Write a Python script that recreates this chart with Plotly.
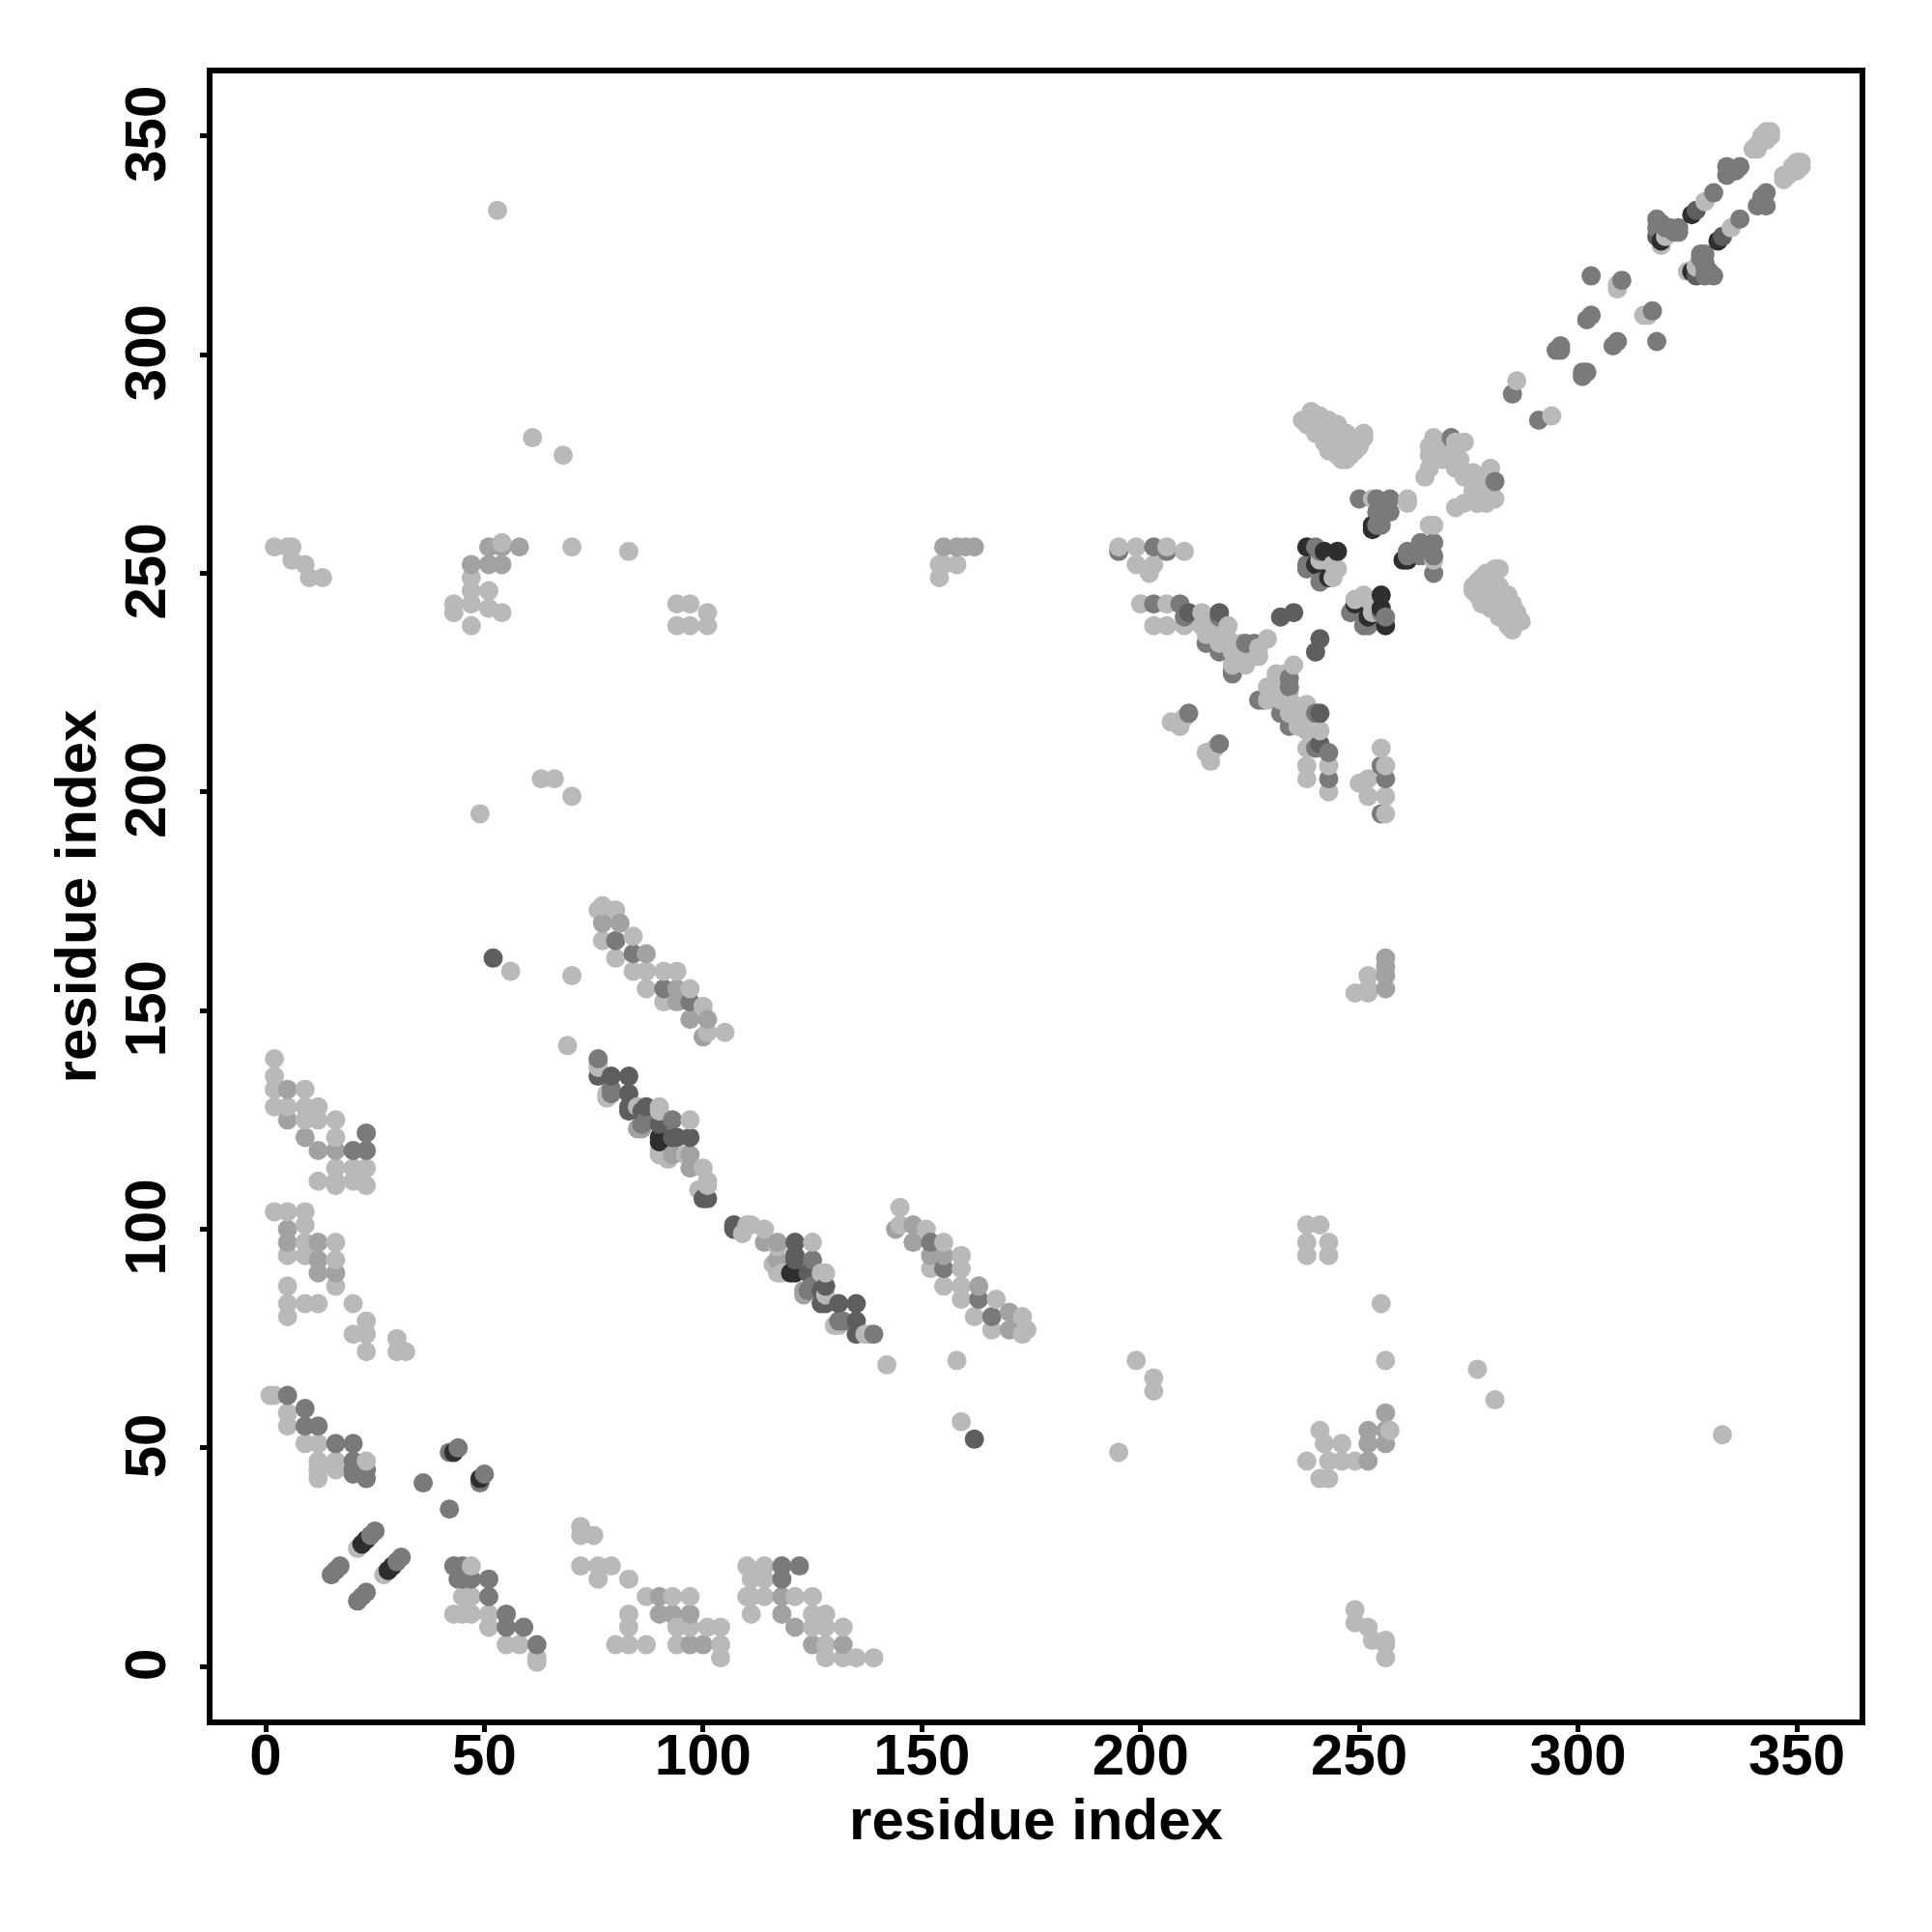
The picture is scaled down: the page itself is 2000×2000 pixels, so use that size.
import plotly.graph_objects as go

tick_values = [0, 50, 100, 150, 200, 250, 300, 350]
axis_title = "residue index"

# residue contacts (each pair is drawn on both sides of the diagonal), by shade
light_pairs = [
    (62,1),(62,2),(55,5),(58,5),(51,9),(51,12),(43,12),(45,12),(47,12),(45,16),(47,16),(47,23),(27,21),
    (72,32),(72,30),(75,30),(72,23),(76,23),(79,23),(76,20),(83,20),(87,16),(93,16),(97,16),(83,12),(83,9),
    (94,9),(97,9),(101,9),(104,9),(80,5),(83,5),(87,5),(94,5),(104,5),(104,2),
    (110,23),(114,23),(111,20),(114,20),(110,16),(114,16),(111,16),(111,12),(125,16),(121,16),(125,12),(128,12),(125,9),(128,9),
    (132,9),(128,5),(128,2),(132,2),(135,2),(139,2),
    (76,137),(78,131),(90,128),(85,128),(86,124),(97,125),(90,117),(96,117),(100,114),(101,111),(100,107),
    (110,101),(109,99),(114,100),(125,97),(116,92),(118,90),(127,90),(130,78),(138,76),(142,69),
    (174,77),(173,76),(173,80),(166,77),(167,84),(162,80),(159,84),(159,87),(159,91),(159,94),(155,87),(155,97),(152,91),(151,100),(145,101),(145,105),
    (53,333),(61,281),(68,277),(70,256),(83,255),(49,195),(63,203),(66,203),(70,199),(56,159),(70,158),(69,142),(158,70),
    (2,256),(5,256),(6,256),(6,253),(9,252),(10,249),(13,249),
    (43,243),(43,241),(47,243),(47,249),(47,246),(47,238),(51,246),(54,257),(54,241),(51,242),
    (94,243),(97,243),(101,241),(94,238),(97,238),(101,238),
    (154,249),(154,252),(158,252),(249,154),(252,155),(252,158),
    (195,256),(199,256),(206,256),(210,255),(199,252),(202,250),(203,252),(200,243),(203,243),(206,243),(203,238),(206,238),(210,238),
    (207,216),(209,216),(215,209),(216,207),(217,210),
    (214,241),(214,238),(215,236),(218,236),(218,234),(220,238),(220,235),(221,232),(221,229),(224,231),(224,229),(227,231),(229,235),(227,233),(218,238),(216,240),(223,234),
    (244,252),(241,253),(251,245),(249,244),(266,261),(267,254),(261,267),(253,267),
    (237,285),(239,287),(241,286),(238,284),(241,284),(243,285),(240,282),(243,282),(245,284),(242,280),(245,281),(247,282),
    (244,279),(246,279),(248,281),(251,282),(250,279),(245,277),(247,276),(248,277),(249,278),(251,281),(248,279),(246,276),(243,278),
    (266,279),(267,281),(266,277),(268,279),(269,280),(272,280),(274,280),(265,272),(266,274),(269,276),(267,276),(270,277),(268,278),
    (272,274),(273,276),(286,294),(309,315),(309,316),(294,286),(319,325),(320,327),(329,335),
    (351,343),(350,342),(349,342),(348,341),(347,341),(350,344),(347,340),(349,343),(351,344),
]
mid_pairs = [
    (90,16),(90,12),(93,12),(97,12),(97,5),(100,5),(118,16),(118,12),(121,9),(125,5),(132,5),
    (93,117),(97,114),(86,123),(114,97),(117,97),(117,93),(123,85),
    (170,77),(170,81),(163,87),(155,94),(152,94),(148,97),(148,101),(144,100),
    (51,252),(51,256),(54,256),(54,252),(58,256),(47,252),
    (155,256),(158,256),(160,256),(162,256),(256,158),(256,155),
]
gray_pairs = [
    (62,5),(59,9),(55,9),(55,12),(51,16),(51,20),(47,20),(45,20),(44,20),(43,23),(45,23),
    (21,15),(22,16),(23,17),(30,24),(31,25),(42,36),(49,42),(50,44),
    (118,23),(122,23),(118,20),
    (76,139),(79,135),(83,135),(79,132),(87,125),(93,125),(97,121),
    (125,93),(124,86),(131,79),(139,76),
    (166,80),(163,84),(155,91),(152,97),
    (195,255),(203,256),(206,255),(203,243),(209,243),(210,240),(211,218),(218,211),
    (218,240),(215,234),(218,232),(221,228),(224,234),(226,234),(221,227),
    (238,252),(240,256),(241,248),(251,238),(255,241),
    (250,267),(254,264),(254,267),(257,264),(257,267),(255,261),(261,254),(264,257),
    (271,281),(285,291),(291,285),
    (296,301),(295,301),(296,302),(302,308),(303,309),(303,318),(310,317),
    (318,331),(319,330),(320,329),(321,329),(323,328),(322,328),(318,329),(323,329),
    (331,337),(334,343),(337,343),(335,342),(334,341),(336,342),
]
dark_pairs = [
    (52,162),(107,101),(107,100),
    (76,135),(83,131),(83,128),(87,128),(90,124),(94,121),(101,107),
    (121,97),(121,93),(124,90),(127,86),(127,83),(131,83),(135,83),(135,79),(135,76),
    (241,211),(218,241),(232,240),(235,241),(318,327),(327,333),
]
black_pairs = [
    (28,22),(29,23),(43,49),(90,120),(121,90),
    (238,256),(242,255),(245,255),(240,252),(243,249),(253,261),(260,253),
    (319,326),(326,332),
]

shades = [
    (light_pairs, "#b9b9b9"),
    (mid_pairs, "#a2a2a2"),
    (gray_pairs, "#7a7a7a"),
    (dark_pairs, "#5e5e5e"),
    (black_pairs, "#2e2e2e"),
]

points = {}
for pairs, colour in shades:
    for a, b in pairs:
        points[(a, b)] = colour
        points[(b, a)] = colour
ordered = sorted(points)

fig = go.Figure(go.Scatter(
    x=[p[0] for p in ordered],
    y=[p[1] for p in ordered],
    mode="markers",
    marker=dict(size=20, color=[points[p] for p in ordered], line=dict(width=0)),
    hoverinfo="skip",
    showlegend=False,
))

font = dict(family="Liberation Sans", size=60, color="black", weight="bold")
common = dict(
    tickmode="array", tickvals=tick_values, ticktext=[str(v) for v in tick_values],
    showgrid=False, zeroline=False, showline=True, mirror=True, linewidth=6, linecolor="black",
    ticks="outside", ticklen=7, tickwidth=5, tickcolor="black", tickfont=font,
)
fig.update_xaxes(range=[-12.15, 364.35], ticklabelstandoff=-28, title=dict(text=axis_title, font=font, standoff=14), **common)
fig.update_yaxes(range=[-12.1, 364.3], tickangle=-90, ticklabelstandoff=12, ticklabelshift=7, title=dict(text=axis_title, font=font, standoff=0), **common)
fig.update_layout(
    width=2000, height=2000, autosize=False,
    margin=dict(l=212, r=83, t=68, b=228),
    paper_bgcolor="white", plot_bgcolor="white",
)
fig.write_html("out.html")
